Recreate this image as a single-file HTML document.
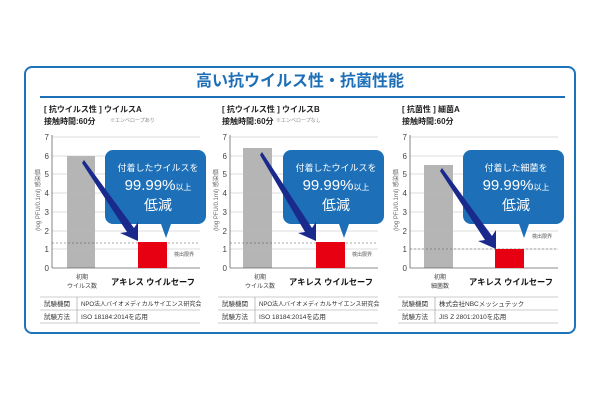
<!DOCTYPE html>
<html><head><meta charset="utf-8"><style>
body{margin:0;background:#fff;}
svg text{font-family:"Liberation Sans","Noto Sans CJK JP",sans-serif;}
</style></head><body>
<svg width="600" height="400" viewBox="0 0 600 400" xmlns="http://www.w3.org/2000/svg">
<rect x="0" y="0" width="600" height="400" fill="#fff"/>
<rect x="25" y="67" width="550" height="266" rx="7" fill="#fff" stroke="#1d74bb" stroke-width="2"/>
<text x="300" y="86" text-anchor="middle" font-size="16" font-weight="bold" fill="#1d6fb8">高い抗ウイルス性・抗菌性能</text>
<line x1="40" y1="97" x2="565" y2="97" stroke="#1d6fb8" stroke-width="2"/>
<defs>
<g id="axis">
  <g stroke="#bbb" stroke-width="0.6">
    <line x1="52" y1="137" x2="200" y2="137"/><line x1="52" y1="156" x2="200" y2="156"/>
    <line x1="52" y1="174" x2="200" y2="174"/><line x1="52" y1="193" x2="200" y2="193"/>
    <line x1="52" y1="212" x2="200" y2="212"/><line x1="52" y1="231" x2="200" y2="231"/>
    <line x1="52" y1="249" x2="200" y2="249"/>
  </g>
  <line x1="52" y1="268" x2="200" y2="268" stroke="#666" stroke-width="0.8"/>
  <line x1="52" y1="135" x2="52" y2="268" stroke="#666" stroke-width="0.8"/>
  <g font-size="8" fill="#444" text-anchor="end">
    <text x="49" y="140">7</text><text x="49" y="159">6</text><text x="49" y="177">5</text>
    <text x="49" y="196">4</text><text x="49" y="215">3</text><text x="49" y="234">2</text>
    <text x="49" y="252">1</text><text x="49" y="271">0</text>
  </g>
  <text x="40" y="200" font-size="6" fill="#666" text-anchor="middle" transform="rotate(-90 40 200)">(log PFU/0.1ml) 感染価</text>
  <text x="153" y="285" font-size="8.5" font-weight="bold" fill="#111" text-anchor="middle" textLength="84" lengthAdjust="spacingAndGlyphs">アキレス ウイルセーフ</text>
  <line x1="40" y1="297" x2="200" y2="297" stroke="#999" stroke-width="0.6"/>
  <line x1="40" y1="310" x2="200" y2="310" stroke="#999" stroke-width="0.6"/>
  <line x1="40" y1="323" x2="200" y2="323" stroke="#999" stroke-width="0.6"/>
  <line x1="77" y1="297" x2="77" y2="323" stroke="#999" stroke-width="0.6"/>
  <text x="44" y="306" font-size="6.5" fill="#333">試験機関</text>
  <text x="44" y="319" font-size="6.5" fill="#333">試験方法</text>
  <path d="M113 150 h85 a8 8 0 0 1 8 8 v58 a8 8 0 0 1 -8 8 h-27 l-5 14 l-5 -14 h-48 a8 8 0 0 1 -8 -8 v-58 a8 8 0 0 1 8 -8z" fill="#1d6fb8"/>
  <text x="158" y="171" font-size="9" fill="#fff" text-anchor="middle">付着したウイルスを</text>
  <text x="158" y="190" font-size="15" fill="#fff" text-anchor="middle">99.99%<tspan font-size="8">以上</tspan></text>
  <text x="158" y="210" font-size="14" fill="#fff" text-anchor="middle">低減</text>
</g>
</defs>
<!-- panel 1 -->
<g>
  <text x="44" y="112" font-size="8" font-weight="bold" fill="#222">[ 抗ウイルス性 ] ウイルスA</text>
  <text x="44" y="124" font-size="8" font-weight="bold" fill="#222">接触時間:60分</text>
  <text x="110" y="122" font-size="5" fill="#888">※エンベロープあり</text>
  <rect x="67" y="156" width="28" height="112" fill="#b5b5b5"/>
  <use href="#axis"/>
  <line x1="52" y1="243" x2="200" y2="243" stroke="#555" stroke-width="0.6" stroke-dasharray="2,2"/>
  <rect x="138" y="242" width="29" height="26" fill="#e60012"/>
  <polygon points="84,160 134,228 138,222 138,241 120,233 127,232 82,163" fill="#1a2a8c"/>
  <text x="174" y="256" font-size="5" fill="#555">検出限界</text>
  <text x="82" y="279" font-size="6" fill="#444" text-anchor="middle">初期</text>
  <text x="82" y="288" font-size="6" fill="#444" text-anchor="middle">ウイルス数</text>
  <text x="81" y="306" font-size="6" fill="#333">NPO法人バイオメディカルサイエンス研究会</text>
  <text x="81" y="319" font-size="6.5" fill="#333">ISO 18184:2014を応用</text>
</g>
<!-- panel 2 -->
<g transform="translate(178,0)">
  <text x="44" y="112" font-size="8" font-weight="bold" fill="#222">[ 抗ウイルス性 ] ウイルスB</text>
  <text x="44" y="124" font-size="8" font-weight="bold" fill="#222">接触時間:60分</text>
  <text x="98" y="122" font-size="5" fill="#888">※エンベロープなし</text>
  <rect x="65" y="148" width="29" height="120" fill="#b5b5b5"/>
  <use href="#axis"/>
  <line x1="52" y1="243" x2="200" y2="243" stroke="#555" stroke-width="0.6" stroke-dasharray="2,2"/>
  <rect x="138" y="242" width="29" height="26" fill="#e60012"/>
  <polygon points="84,152 134,228 138,222 138,241 120,233 127,232 82,155" fill="#1a2a8c"/>
  <text x="174" y="256" font-size="5" fill="#555">検出限界</text>
  <text x="82" y="279" font-size="6" fill="#444" text-anchor="middle">初期</text>
  <text x="82" y="288" font-size="6" fill="#444" text-anchor="middle">ウイルス数</text>
  <text x="81" y="306" font-size="6" fill="#333">NPO法人バイオメディカルサイエンス研究会</text>
  <text x="81" y="319" font-size="6.5" fill="#333">ISO 18184:2014を応用</text>
</g>
<!-- panel 3 -->
<g transform="translate(358,0)">
  <text x="44" y="112" font-size="8" font-weight="bold" fill="#222">[ 抗菌性 ] 細菌A</text>
  <text x="44" y="124" font-size="8" font-weight="bold" fill="#222">接触時間:60分</text>
  <rect x="66" y="165" width="29" height="103" fill="#b5b5b5"/>
  <use href="#axis"/>
  <line x1="52" y1="249" x2="200" y2="249" stroke="#555" stroke-width="0.6" stroke-dasharray="2,2"/>
  <rect x="137" y="249" width="29" height="19" fill="#e60012"/>
  <polygon points="84,168 134,236 138,230 138,249 120,241 127,240 82,171" fill="#1a2a8c"/>
  <text x="174" y="238" font-size="5" fill="#555">検出限界</text>
  <text x="82" y="279" font-size="6" fill="#444" text-anchor="middle">初期</text>
  <text x="82" y="288" font-size="6" fill="#444" text-anchor="middle">細菌数</text>
  <text x="81" y="306" font-size="6.5" fill="#333">株式会社NBCメッシュテック</text>
  <text x="81" y="319" font-size="6.5" fill="#333">JIS Z 2801:2010を応用</text>
</g>
<rect x="476" y="160" width="80" height="14" fill="#1d6fb8"/>
<text x="516" y="171" font-size="9" fill="#fff" text-anchor="middle">付着した細菌を</text>
</svg>
</body></html>
